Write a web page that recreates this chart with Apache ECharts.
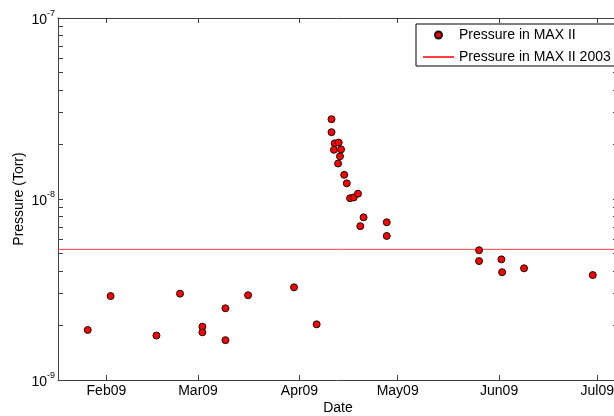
<!DOCTYPE html>
<html>
<head>
<meta charset="utf-8">
<script src="https://cdn.jsdelivr.net/npm/echarts@6/dist/echarts.min.js"></script>
<style>
html,body{margin:0;padding:0;background:#fff;}
#chart{width:614px;height:416px;}
</style>
</head>
<body>
<div id="chart"></div>
<script>
// ---- data ----
const measureDates = [
  '2009-01-26 07:00','2009-02-02 07:00','2009-02-16 07:00','2009-02-23 12:00',
  '2009-03-02 08:00','2009-03-02 08:00','2009-03-09 09:00','2009-03-09 09:00',
  '2009-03-16 07:00','2009-03-30 08:00','2009-04-06 06:00',
  '2009-04-10 19:00','2009-04-10 19:00','2009-04-11 18:00','2009-04-13 00:00',
  '2009-04-11 13:00','2009-04-13 17:00','2009-04-13 09:00','2009-04-12 19:00',
  '2009-04-14 16:00','2009-04-15 11:00','2009-04-16 11:00','2009-04-17 14:00',
  '2009-04-18 21:00','2009-04-20 14:00','2009-04-19 14:00','2009-04-27 16:00',
  '2009-04-27 16:00','2009-05-25 21:00','2009-05-25 21:00','2009-06-01 17:00',
  '2009-06-01 22:00','2009-06-08 15:00','2009-06-29 15:00'
];
const pressures = [
  1.89e-9, 2.91e-9, 1.76e-9, 3.00e-9,
  1.97e-9, 1.835e-9, 2.49e-9, 1.66e-9,
  2.94e-9, 3.25e-9, 2.03e-9,
  2.76e-8, 2.34e-8, 2.03e-8, 2.05e-8,
  1.87e-8, 1.88e-8, 1.72e-8, 1.57e-8,
  1.36e-8, 1.22e-8, 1.01e-8, 1.02e-8,
  1.07e-8, 7.92e-9, 7.08e-9, 7.44e-9,
  6.25e-9, 5.21e-9, 4.54e-9, 4.64e-9,
  3.94e-9, 4.14e-9, 3.80e-9
];
const reference2003 = 5.27e-9;
const xStart = '2009-01-17 05:00';
const xEnd = '2009-07-07 08:00';
const monthTicks = ['2009-02-01 00:00','2009-03-01 00:00','2009-04-01 00:00','2009-05-01 00:00','2009-06-01 00:00','2009-07-01 00:00'];
const monthLabels = ['Feb09','Mar09','Apr09','May09','Jun09','Jul09'];
const yMajor = [1e-9, 1e-8, 1e-7];
const yMajorLabels = ['-9', '-8', '-7'];
const yMinor = [2e-9,3e-9,4e-9,5e-9,6e-9,7e-9,8e-9,9e-9,2e-8,3e-8,4e-8,5e-8,6e-8,7e-8,8e-8,9e-8];

// ---- chart ----
function ts(s) {
  const m = s.match(/(\d+)-(\d+)-(\d+) (\d+):(\d+)/);
  return Date.UTC(+m[1], +m[2] - 1, +m[3], +m[4], +m[5]);
}
const monthTs = monthTicks.map(ts);
const allYTicks = yMajor.concat(yMinor);
const axisCol = '#404040';
const font = 'Liberation Sans, Arial, sans-serif';
const fs = 14;

const chart = echarts.init(document.getElementById('chart'), null, {renderer: 'canvas'});
const xBase = {
  type: 'value', min: ts(xStart), max: ts(xEnd), scale: true,
  splitLine: {show: false},
  axisLine: {lineStyle: {color: axisCol, width: 1}},
  axisTick: {inside: true, length: 5, customValues: monthTs, lineStyle: {color: axisCol}}
};
const yBase = {
  type: 'log', logBase: 10, min: yMajor[0], max: yMajor[2],
  splitLine: {show: false},
  axisLine: {show: true, lineStyle: {color: axisCol, width: 1}},
  axisTick: {inside: true, length: 5, customValues: allYTicks, lineStyle: {color: axisCol}}
};
chart.setOption({
  animation: false,
  backgroundColor: '#fff',
  textStyle: {fontFamily: font},
  grid: {left: 58, top: 18, right: -4, bottom: 36, containLabel: false, outerBoundsMode: 'none'},
  legend: {
    orient: 'vertical', left: 416, top: 24,
    backgroundColor: '#fff', borderColor: '#000', borderWidth: 1,
    padding: [4, 30, 2, 6],
    itemWidth: 31, itemHeight: 7, itemGap: 8,
    textStyle: {fontFamily: font, fontSize: fs, color: '#000', lineHeight: 14},
    data: [
      {name: 'Pressure in MAX II'},
      {name: 'Pressure in MAX II 2003', itemStyle: {opacity: 0}}
    ]
  },
  xAxis: [
    Object.assign({}, xBase, {
      position: 'bottom',
      name: 'Date', nameLocation: 'middle', nameGap: 21, nameMoveOverlap: false,
      nameTextStyle: {fontFamily: font, fontSize: fs, color: '#000'},
      axisLabel: {
        customValues: monthTs, margin: 4, color: '#000', fontSize: fs, fontFamily: font,
        formatter: v => { const i = monthTs.findIndex(t => Math.abs(t - v) < 1000); return i < 0 ? '' : monthLabels[i]; }
      }
    }),
    Object.assign({}, xBase, {position: 'top', axisLabel: {show: false}})
  ],
  yAxis: [
    Object.assign({}, yBase, {
      position: 'left',
      name: 'Pressure (Torr)', nameLocation: 'middle', nameGap: 32, nameRotate: 90, nameMoveOverlap: false,
      nameTextStyle: {fontFamily: font, fontSize: fs, color: '#000'},
      axisLabel: {
        customValues: yMajor, margin: 3,
        formatter: v => {
          const i = yMajor.findIndex(m => Math.abs(Math.log10(m) - Math.log10(v)) < 1e-6);
          return i < 0 ? '' : '{b|10}{s|' + yMajorLabels[i] + '}';
        },
        rich: {
          b: {fontSize: fs, fontFamily: font, color: '#000', verticalAlign: 'bottom', lineHeight: 18},
          s: {fontSize: 9, fontFamily: font, color: '#000', verticalAlign: 'top', lineHeight: 10}
        }
      }
    }),
    Object.assign({}, yBase, {position: 'right', axisLabel: {show: false}})
  ],
  series: [
    {
      name: 'Pressure in MAX II 2003', type: 'line',
      xAxisIndex: 0, yAxisIndex: 0,
      symbol: 'none', silent: true,
      lineStyle: {color: '#ff4040', width: 1},
      itemStyle: {color: '#ff4040'},
      data: [[ts(xStart), reference2003], [ts(xEnd), reference2003]],
      z: 1
    },
    {
      name: 'Pressure in MAX II', type: 'scatter',
      xAxisIndex: 0, yAxisIndex: 0,
      symbol: 'circle', symbolSize: 7,
      itemStyle: {color: '#ff0000', borderColor: '#111', borderWidth: 1, opacity: 1},
      data: measureDates.map((d, i) => [ts(d), pressures[i]]),
      z: 3
    }
  ]
});
</script>
</body>
</html>
